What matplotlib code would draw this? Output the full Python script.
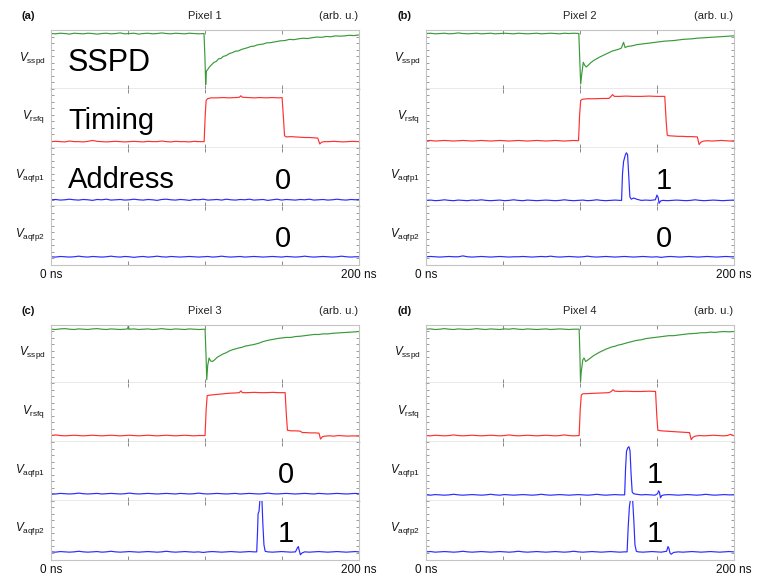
import matplotlib
matplotlib.use("Agg")
import matplotlib.pyplot as plt
from matplotlib.ticker import FixedLocator, MultipleLocator

plt.rcParams['font.family'] = ['Liberation Sans', 'DejaVu Sans']
plt.rcParams['mathtext.fontset'] = 'custom'
plt.rcParams['mathtext.rm'] = 'Liberation Sans'
plt.rcParams['mathtext.it'] = 'Liberation Sans:italic'

# ---------------------------------------------------------------- labels
panel_letters = ['(a)', '(b)', '(c)', '(d)']
pixel_titles = ['Pixel 1', 'Pixel 2', 'Pixel 3', 'Pixel 4']
channel_labels = [r'$V_{\mathrm{sspd}}$', r'$V_{\mathrm{rsfq}}$',
                  r'$V_{\mathrm{aqfp1}}$', r'$V_{\mathrm{aqfp2}}$']
row_names = ['SSPD', 'Timing', 'Address']
address_bit1 = ['0', '1', '0', '1']
address_bit2 = ['0', '0', '1', '1']
bit_label_time = [151, 155, 153, 149]
time_ticks = [0, 50, 100, 150, 200]
time_tick_labels = ['0 ns', '', '', '', '200 ns']

# ---------------------------------------------------------------- traces (time in ns, voltage in arb. u.)
sspd_a = [(0,.94),(3,.935),(6,.945),(9,.94),(12,.93),(15,.945),(18,.94),(21,.935),(24,.945),(27,.94),
          (30,.93),(33,.94),(36,.945),(39,.935),(42,.94),(45,.95),(48,.935),(51,.94),(54,.945),(57,.93),
          (60,.94),(63,.945),(66,.935),(69,.94),(72,.95),(75,.94),(78,.935),(81,.945),(84,.94),(87,.935),
          (90,.945),(93,.94),(96,.935),(99.5,.94),(100.1,.55),(100.6,.07),(101.1,.30),(102,.33),(103,.37),
          (104.5,.41),(106,.45),(107.5,.465),(109,.51),(110.5,.515),(112,.55),(114,.565),(116,.60),(118,.615),
          (120,.64),(122,.645),(124,.67),(126,.685),(128,.70),(130,.72),(132,.725),(134,.745),(136,.755),
          (138,.76),(140,.78),(143,.785),(146,.80),(149,.815),(152,.82),(155,.84),(158,.835),(161,.85),
          (164,.86),(167,.855),(170,.87),(173,.88),(176,.875),(179,.89),(182,.885),(185,.90),(188,.895),
          (191,.90),(194,.91),(197,.905),(200,.915)]
rsfq_a = [(0,.10),(3,.105),(6,.10),(9,.095),(12,.11),(15,.10),(18,.10),(21,.095),(24,.105),(27,.12),
          (30,.105),(33,.10),(36,.095),(39,.10),(42,.105),(45,.10),(48,.095),(51,.10),(54,.105),(57,.10),
          (60,.095),(63,.105),(66,.10),(69,.10),(72,.11),(75,.10),(78,.095),(81,.105),(84,.10),(87,.10),
          (90,.095),(93,.105),(96,.10),(99.6,.10),(100.3,.55),(100.9,.80),(101.8,.83),(104,.845),(108,.845),
          (112,.85),(116,.845),(120,.85),(122.5,.855),(123.5,.88),(124.5,.855),(128,.85),(132,.845),
          (136,.85),(140,.845),(144,.85),(148,.845),(150.3,.85),(151.2,.50),(151.9,.20),(153,.18),
          (156,.185),(159,.18),(162,.175),(165,.17),(168,.17),(171,.165),(173.5,.16),(174.8,.06),
          (176,.09),(178,.10),(181,.10),(184,.105),(187,.10),(190,.095),(193,.10),(196,.105),(200,.10)]
aqfp1_a = [(0,.11),(3,.115),(6,.105),(9,.11),(12,.12),(15,.11),(18,.105),(21,.115),(24,.11),(27,.10),
           (30,.115),(33,.11),(36,.12),(39,.105),(42,.11),(45,.115),(48,.105),(51,.11),(54,.12),(57,.11),
           (60,.105),(63,.115),(66,.11),(69,.10),(72,.115),(75,.12),(78,.11),(81,.105),(84,.115),(87,.11),
           (90,.10),(93,.115),(96,.11),(99,.12),(102,.105),(105,.11),(108,.115),(111,.105),(114,.12),
           (117,.11),(120,.105),(123,.115),(126,.11),(129,.12),(132,.105),(135,.11),(138,.115),(141,.10),
           (144,.11),(147,.12),(150,.105),(153,.115),(156,.11),(159,.105),(162,.115),(165,.11),(168,.12),
           (171,.105),(174,.11),(177,.115),(180,.105),(183,.11),(186,.12),(189,.11),(192,.105),(195,.115),
           (198,.11),(200,.115)]
aqfp2_a = [(0,.14),(3,.135),(6,.145),(9,.14),(12,.135),(15,.14),(18,.15),(21,.14),(24,.135),(27,.145),
           (30,.14),(33,.135),(36,.14),(39,.15),(42,.14),(45,.135),(48,.145),(51,.14),(54,.13),(57,.14),
           (60,.145),(63,.135),(66,.14),(69,.15),(72,.14),(75,.135),(78,.145),(81,.14),(84,.135),(87,.14),
           (90,.145),(93,.14),(96,.135),(99,.14),(102,.145),(105,.135),(108,.14),(111,.15),(114,.14),
           (117,.135),(120,.14),(123,.145),(126,.135),(129,.14),(132,.145),(135,.14),(138,.135),(141,.14),
           (144,.145),(147,.14),(150,.135),(153,.145),(156,.14),(159,.135),(162,.14),(165,.15),(168,.14),
           (171,.135),(174,.14),(177,.145),(180,.14),(183,.135),(186,.14),(189,.15),(192,.14),(195,.135),
           (198,.14),(200,.14)]

sspd_b = [(0,.94),(3,.945),(6,.935),(9,.94),(12,.945),(15,.935),(18,.94),(21,.95),(24,.94),(27,.935),
          (30,.94),(33,.945),(36,.935),(39,.94),(42,.945),(45,.935),(48,.94),(51,.945),(54,.94),(57,.935),
          (60,.945),(63,.94),(66,.935),(69,.94),(72,.945),(75,.935),(78,.94),(81,.945),(84,.94),(87,.935),
          (90,.945),(93,.94),(96,.945),(99.4,.94),(100,.50),(100.6,.08),(101.3,.25),(102.3,.45),(103.2,.40),
          (104.2,.37),(105.5,.40),(107,.44),(109,.48),(111,.51),(113,.54),(115,.565),(117,.59),(119,.615),
          (121,.64),(123,.655),(125,.67),(127,.69),(128.5,.79),(129.5,.70),(131,.72),(134,.73),(137,.75),
          (140,.76),(143,.77),(146,.78),(149,.79),(152,.80),(155,.81),(158,.815),(161,.82),(164,.83),
          (167,.84),(170,.845),(173,.85),(176,.86),(179,.865),(182,.87),(185,.875),(188,.88),(191,.885),
          (194,.89),(197,.895),(200,.90)]
rsfq_b = [(0,.115),(3,.12),(6,.11),(9,.115),(12,.12),(15,.115),(18,.11),(21,.115),(24,.12),(27,.115),
          (30,.11),(33,.115),(36,.12),(39,.115),(42,.11),(45,.115),(48,.12),(51,.115),(54,.11),(57,.115),
          (60,.12),(63,.115),(66,.11),(69,.115),(72,.12),(75,.115),(78,.11),(81,.115),(84,.12),(87,.115),
          (90,.11),(93,.115),(96,.12),(99.2,.115),(99.9,.55),(100.6,.80),(101.5,.82),(105,.83),(110,.83),
          (115,.835),(119,.835),(120,.86),(121.3,.90),(122.5,.87),(126,.87),(130,.875),(135,.87),(140,.87),
          (145,.875),(150,.87),(155.3,.87),(156.2,.45),(156.9,.21),(158,.20),(161,.195),(164,.19),
          (167,.19),(170,.185),(173,.185),(176.5,.18),(177.6,.05),(178.8,.09),(180.5,.11),(183,.115),
          (186,.11),(189,.115),(192,.12),(195,.115),(198,.11),(200,.115)]
aqfp1_b = [(0,.10),(3,.105),(6,.095),(9,.10),(12,.11),(15,.10),(18,.095),(21,.105),(24,.10),(27,.095),
           (30,.105),(33,.10),(36,.11),(39,.10),(42,.095),(45,.10),(48,.105),(51,.095),(54,.10),(57,.11),
           (60,.10),(63,.095),(66,.105),(69,.10),(72,.095),(75,.10),(78,.105),(81,.10),(84,.095),(87,.10),
           (90,.11),(93,.10),(96,.095),(99,.10),(102,.105),(105,.095),(108,.10),(111,.11),(114,.10),
           (117,.095),(120,.10),(123,.105),(126,.10),(127.2,.10),(127.8,.55),(128.5,.76),(129.5,.86),
           (130.3,.91),(131.1,.88),(131.8,.55),(132.6,.16),(133.5,.12),(135,.14),(137,.12),(140,.10),
           (143,.105),(146,.10),(149.2,.11),(150.2,.19),(151,.15),(151.6,.05),(152.6,.09),(154,.10),
           (157,.095),(160,.10),(163,.105),(166,.10),(169,.095),(172,.10),(175,.11),(178,.10),(181,.095),
           (184,.10),(187,.105),(190,.10),(193,.095),(196,.10),(200,.105)]
aqfp2_b = [(0,.14),(3,.145),(6,.14),(9,.135),(12,.14),(15,.145),(18,.14),(21,.14),(24,.155),(27,.14),
           (30,.135),(33,.14),(36,.145),(39,.14),(42,.135),(45,.14),(48,.145),(51,.14),(54,.135),(57,.14),
           (60,.14),(63,.145),(66,.14),(69,.135),(72,.14),(75,.145),(78,.14),(81,.15),(84,.14),(87,.135),
           (90,.14),(93,.145),(96,.14),(99,.135),(102,.14),(105,.15),(108,.14),(111,.135),(114,.14),
           (117,.145),(120,.14),(123,.135),(126,.14),(129,.145),(132,.14),(135,.135),(138,.14),(141,.145),
           (144,.14),(147,.135),(150,.14),(153,.13),(156,.14),(159,.145),(162,.14),(165,.135),(168,.14),
           (171,.145),(174,.14),(177,.135),(180,.14),(183,.145),(186,.14),(189,.135),(192,.14),(195,.145),
           (198,.14),(200,.14)]

sspd_c = [(0,.92),(3,.915),(6,.925),(9,.93),(12,.92),(15,.915),(18,.925),(21,.92),(24,.915),(27,.925),
          (30,.93),(33,.92),(36,.915),(39,.925),(42,.92),(45,.915),(48,.92),(49.8,.925),(50.3,.98),
          (50.8,.92),(54,.925),(57,.915),(60,.92),(63,.925),(66,.915),(69,.92),(72,.93),(75,.92),
          (78,.915),(81,.925),(84,.92),(87,.915),(90,.925),(93,.92),(96,.915),(100.2,.92),(100.8,.50),
          (101.3,.06),(101.9,.30),(102.8,.43),(103.8,.38),(105,.37),(106.5,.40),(108,.44),(110,.47),
          (112,.50),(114,.52),(116,.55),(118,.57),(120,.585),(122,.60),(124,.61),(126,.63),(128,.64),
          (130,.65),(132,.66),(135,.68),(138,.71),(141,.73),(144,.745),(147,.76),(150,.77),(153,.78),
          (156,.78),(159,.795),(162,.80),(165,.81),(168,.82),(171,.83),(174,.83),(177,.84),(180,.84),
          (183,.85),(186,.855),(189,.86),(192,.865),(195,.87),(198,.875),(200,.88)]
rsfq_c = [(0,.11),(3,.12),(6,.11),(9,.105),(12,.11),(15,.115),(18,.11),(21,.105),(24,.11),(27,.115),
          (30,.11),(33,.105),(36,.11),(39,.115),(42,.11),(45,.105),(48,.11),(51,.115),(54,.11),(57,.105),
          (60,.11),(63,.115),(66,.11),(69,.105),(72,.11),(75,.115),(78,.11),(81,.105),(84,.11),(87,.115),
          (90,.11),(93,.105),(96,.11),(100.2,.11),(100.9,.55),(101.6,.79),(104,.80),(108,.81),(112,.82),
          (116,.83),(120,.835),(122.5,.84),(123.5,.87),(124.5,.84),(128,.84),(132,.845),(136,.84),
          (140,.84),(144,.845),(148,.84),(152.3,.84),(153.1,.45),(153.8,.20),(156,.19),(159,.19),
          (162,.185),(163.5,.16),(166,.16),(169,.155),(172,.155),(174.3,.15),(175.3,.05),(176.5,.09),
          (178,.10),(181,.105),(184,.10),(187,.11),(190,.105),(193,.10),(196,.105),(200,.10)]
aqfp1_c = [(0,.12),(3,.115),(6,.125),(9,.12),(12,.115),(15,.12),(18,.13),(21,.12),(24,.115),(27,.12),
           (30,.125),(33,.115),(36,.12),(39,.125),(42,.12),(45,.115),(48,.12),(51,.13),(54,.12),(57,.115),
           (60,.12),(63,.125),(66,.12),(69,.115),(72,.12),(75,.125),(78,.12),(81,.115),(84,.125),(87,.12),
           (90,.115),(93,.12),(96,.13),(99,.12),(102,.115),(105,.12),(108,.125),(111,.12),(114,.115),
           (117,.12),(120,.125),(123,.115),(126,.12),(129,.125),(132,.12),(135,.115),(138,.12),(141,.13),
           (144,.12),(147,.115),(150,.12),(153,.125),(156,.12),(159,.115),(162,.12),(165,.125),(168,.12),
           (171,.115),(174,.125),(177,.12),(180,.115),(183,.12),(186,.125),(189,.12),(192,.115),(195,.12),
           (198,.125),(200,.12)]
aqfp2_c = [(0,.13),(3,.125),(6,.135),(9,.13),(12,.125),(15,.13),(18,.14),(21,.13),(24,.125),(27,.13),
           (30,.135),(33,.125),(36,.13),(39,.14),(42,.13),(45,.125),(48,.13),(51,.135),(54,.13),(57,.125),
           (60,.13),(63,.135),(66,.13),(69,.125),(72,.13),(75,.14),(78,.13),(81,.125),(84,.13),(87,.135),
           (90,.13),(93,.125),(96,.13),(99,.12),(102,.13),(105,.135),(108,.13),(111,.125),(114,.13),
           (117,.135),(120,.13),(123,.125),(126,.13),(129,.135),(132,.13),(133.8,.13),(134.3,.45),
           (134.7,.78),(135.3,.82),(135.9,1.02),(137.2,1.02),(137.8,.60),(138.5,.25),(139.3,.14),
           (141,.13),(144,.125),(147,.13),(150,.135),(153,.13),(156,.125),(159,.13),(160.3,.20),
           (160.9,.22),(161.5,.15),(162.2,.08),(163.2,.11),(165,.13),(168,.125),(171,.13),(174,.135),
           (177,.13),(180,.125),(183,.13),(186,.135),(189,.13),(192,.125),(195,.13),(198,.135),(200,.13)]

sspd_d = [(0,.92),(3,.925),(6,.915),(9,.92),(12,.93),(15,.92),(18,.915),(21,.925),(24,.92),(27,.915),
          (30,.92),(33,.93),(36,.92),(39,.915),(42,.925),(45,.92),(48,.915),(51,.925),(54,.92),(57,.93),
          (60,.92),(63,.915),(66,.925),(69,.92),(72,.915),(75,.92),(78,.925),(81,.915),(84,.92),(87,.925),
          (90,.92),(93,.915),(96,.92),(99.6,.92),(100.1,.50),(100.5,.03),(101,.20),(102,.40),(102.8,.43),
          (103.8,.37),(105,.39),(107,.43),(109,.47),(111,.50),(113,.53),(115,.555),(117,.58),(119,.60),
          (121,.62),(123,.63),(125,.65),(127,.66),(129,.675),(131,.69),(134,.71),(137,.73),(140,.74),
          (143,.76),(146,.77),(149,.78),(152,.79),(155,.80),(158,.81),(161,.81),(164,.82),(167,.83),
          (170,.84),(173,.845),(176,.85),(179,.86),(182,.86),(185,.87),(188,.865),(191,.875),(194,.88),
          (197,.875),(200,.88)]
rsfq_d = [(0,.11),(3,.105),(6,.115),(9,.11),(12,.105),(15,.11),(18,.12),(21,.11),(24,.105),(27,.11),
          (30,.115),(33,.11),(36,.105),(39,.11),(42,.115),(45,.11),(48,.105),(51,.11),(54,.12),(57,.11),
          (60,.105),(63,.11),(66,.115),(69,.11),(72,.105),(75,.11),(78,.115),(81,.11),(84,.105),(87,.11),
          (90,.12),(93,.11),(96,.105),(99.6,.11),(100.3,.55),(101,.80),(102,.82),(106,.825),(110,.83),
          (115,.835),(119,.84),(120.5,.86),(121.6,.89),(122.8,.865),(126,.86),(130,.865),(135,.86),
          (140,.86),(145,.865),(149.3,.86),(150.1,.45),(150.8,.20),(153,.19),(156,.185),(159,.18),
          (162,.175),(165,.17),(168,.165),(171.4,.16),(172.5,.04),(173.6,.08),(175,.10),(178,.11),
          (181,.105),(184,.11),(187,.115),(190,.11),(193,.105),(196,.11),(198,.13),(200,.11)]
aqfp1_d = [(0,.10),(3,.095),(6,.105),(9,.10),(12,.095),(15,.10),(18,.11),(21,.10),(24,.095),(27,.10),
           (30,.105),(33,.10),(36,.095),(39,.10),(42,.11),(45,.10),(48,.095),(51,.105),(54,.10),(57,.095),
           (60,.10),(63,.105),(66,.10),(69,.095),(72,.10),(75,.11),(78,.10),(81,.095),(84,.10),(87,.105),
           (90,.10),(93,.095),(96,.10),(99,.105),(102,.10),(105,.095),(108,.10),(111,.11),(114,.10),
           (117,.095),(120,.10),(123,.105),(126,.10),(129.2,.10),(129.8,.55),(130.4,.84),(131.2,.90),
           (132,.92),(132.7,.85),(133.4,.45),(134.1,.15),(135,.12),(137,.11),(140,.10),(143,.105),
           (146,.10),(149,.095),(150.6,.12),(151.3,.17),(151.9,.14),(152.5,.05),(153.4,.09),(155,.10),
           (158,.105),(161,.10),(164,.095),(167,.10),(170,.105),(173,.10),(176,.095),(179,.10),(182,.11),
           (185,.10),(188,.095),(191,.10),(194,.105),(197,.10),(200,.10)]
aqfp2_d = [(0,.13),(3,.135),(6,.125),(9,.13),(12,.135),(15,.13),(18,.125),(21,.13),(24,.14),(27,.13),
           (30,.125),(33,.13),(36,.135),(39,.13),(42,.125),(45,.13),(48,.135),(51,.13),(54,.125),(57,.13),
           (60,.14),(63,.13),(66,.125),(69,.13),(72,.135),(75,.13),(78,.125),(81,.13),(84,.135),(87,.13),
           (90,.125),(93,.13),(96,.14),(99,.13),(102,.125),(105,.13),(108,.135),(111,.13),(114,.125),
           (117,.13),(120,.135),(123,.13),(126,.125),(129,.13),(130.8,.13),(131.5,.55),(132.3,.90),
           (133,1.02),(134.4,1.02),(135.2,.65),(135.9,.25),(136.8,.14),(138,.13),(141,.125),(144,.13),
           (147,.135),(150,.13),(153,.125),(156.5,.14),(157.4,.22),(158,.19),(158.7,.11),(159.5,.09),
           (161,.12),(164,.13),(167,.125),(170,.13),(173,.135),(176,.13),(179,.125),(182,.13),(185,.135),
           (188,.13),(191,.125),(194,.13),(197,.135),(200,.13)]

panel_traces = [
    [sspd_a, rsfq_a, aqfp1_a, aqfp2_a],
    [sspd_b, rsfq_b, aqfp1_b, aqfp2_b],
    [sspd_c, rsfq_c, aqfp1_c, aqfp2_c],
    [sspd_d, rsfq_d, aqfp1_d, aqfp2_d],
]

# ---------------------------------------------------------------- styling
trace_colors = ['#3a9a3a', '#ff3030', '#2b2bff', '#2b2bff']
outer_gray = '#c4c4c4'
separator_gray = '#555555'
tick_gray = '#8a8a8a'

W, H = 760, 577
fig = plt.figure(figsize=(W / 100, H / 100), dpi=100)

panel_left = [51, 426, 51, 426]
panel_top = [30, 30, 324.5, 324.5]
panel_width = 307.5
row_height = 58.75

for p in range(4):
    left = panel_left[p]
    top = panel_top[p]
    axes = []
    for i in range(4):
        bottom_px = top + (i + 1) * row_height
        ax = fig.add_axes([left / W, 1 - bottom_px / H, panel_width / W, row_height / H])
        axes.append(ax)
        t, v = zip(*panel_traces[p][i])
        ax.plot(t, v, color=trace_colors[i], lw=0.85, solid_joinstyle='round')
        ax.set_xlim(0, 200)
        ax.set_ylim(0, 1)

        for side in ('left', 'right', 'top'):
            ax.spines[side].set_color(outer_gray)
            ax.spines[side].set_linewidth(0.8)
        ax.spines['top'].set_visible(i == 0)
        ax.spines['bottom'].set_color(separator_gray if i < 3 else outer_gray)
        ax.spines['bottom'].set_linewidth(0.9 if i < 3 else 0.8)

        ax.xaxis.set_major_locator(FixedLocator(time_ticks))
        ax.tick_params(axis='x', which='major', direction='in', top=True, bottom=True,
                       length=3, width=0.7, color=tick_gray, labelsize=8.5, pad=3,
                       labelcolor='#111111')
        if i == 3:
            ax.set_xticklabels(time_tick_labels)
        else:
            ax.tick_params(axis='x', labelbottom=False)

        ax.yaxis.set_major_locator(FixedLocator([]))
        ax.yaxis.set_minor_locator(MultipleLocator(1 / 9))
        ax.tick_params(axis='y', which='minor', direction='in', left=True, right=True,
                       length=2, width=0.6, color=tick_gray)

        ax.text(-0.018, 0.52, channel_labels[i], transform=ax.transAxes,
                ha='right', va='center', fontsize=8.5, color='#111111')

    # panel header
    fig.text((left - 29) / W, 1 - (top - 14) / H, panel_letters[p], fontsize=8,
             fontweight='bold', ha='left', va='center', color='#111111')
    fig.text((left + panel_width / 2) / W, 1 - (top - 14) / H, pixel_titles[p],
             fontsize=8, ha='center', va='center', color='#222222')
    fig.text((left + panel_width) / W, 1 - (top - 14) / H, '(arb. u.)',
             fontsize=8, ha='right', va='center', color='#222222')

    # address bits
    axes[2].text(bit_label_time[p], 0.30, address_bit1[p], fontsize=21,
                 ha='center', va='baseline', color='black')
    axes[3].text(bit_label_time[p], 0.30, address_bit2[p], fontsize=21,
                 ha='center', va='baseline', color='black')

    if p == 0:
        for i, name in enumerate(row_names):
            axes[i].text(11, 0.31, name, fontsize=22 if i == 0 else 21,
                         ha='left', va='baseline', color='black')

fig.savefig('out.png', dpi=100)
